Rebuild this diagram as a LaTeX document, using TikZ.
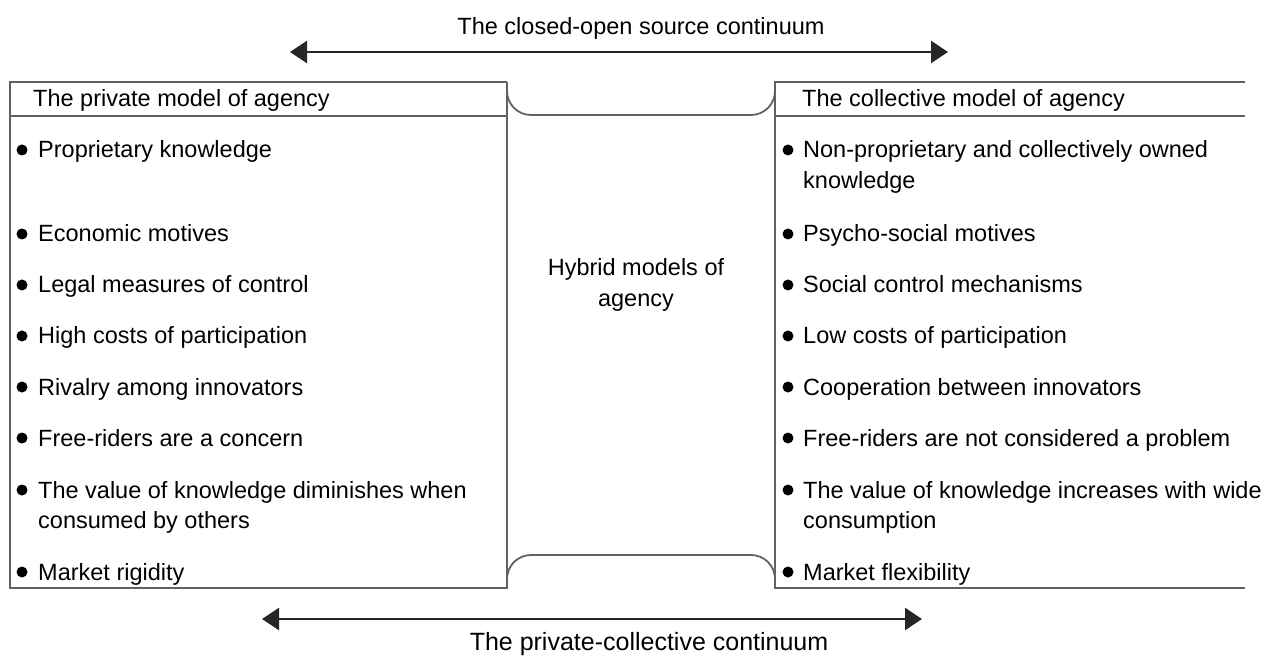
\documentclass[tikz,border=0pt]{standalone}
\usepackage{fontspec}
\setmainfont{Liberation Sans}
\usepackage{tikz}
\usetikzlibrary{arrows.meta}

\tikzset{
    boxline/.style = {draw = black!62, line width = 1.8pt},
    continuum/.style = {draw = black!85, line width = 2.6pt,
        {Triangle[length = 17pt, width = 22pt]}-{Triangle[length = 17pt, width = 22pt]}},
    item/.style = {anchor = base west, inner sep = 0, align = left},
    caption/.style = {anchor = base, inner sep = 0}
}

\begin{document}
\begin{tikzpicture}[x = 1pt, y = -1pt, font = \fontsize{23.5}{30.5}\selectfont]
    \useasboundingbox (0, 0) rectangle (1264, 660);

    % corners of the two boxes
    \coordinate (pTL) at (10, 82);    \coordinate (pTR) at (507, 82);
    \coordinate (pHL) at (10, 116);   \coordinate (pHR) at (507, 116);
    \coordinate (pBL) at (10, 588);   \coordinate (pBR) at (507, 588);
    \coordinate (cTL) at (775, 82);   \coordinate (cTR) at (1245, 82);
    \coordinate (cHL) at (775, 116);  \coordinate (cHR) at (1245, 116);
    \coordinate (cBL) at (775, 588);  \coordinate (cBR) at (1245, 588);

    \draw[boxline] (pTR) -- (pTL) -- (pBL) -- (pBR) -- (pTR);
    \draw[boxline] (pHL) -- (pHR);
    \draw[boxline] (cTR) -- (cTL) -- (cBL) -- (cBR);
    \draw[boxline] (cHL) -- (cHR);

    % hybrid band between the boxes
    \draw[boxline, rounded corners = 24pt] (pTR) -- (507, 115) -- (775, 115) -- (cTL);
    \draw[boxline, rounded corners = 24pt] (pBR) -- (507, 555) -- (775, 555) -- (cBL);

    \node[item] (pHead) at (33, 107) {The private model of agency};
    \node[item] (cHead) at (802, 107) {The collective model of agency};

    % \k = extra lines of an item (the node's base is its last line)
    \foreach \n/\yb/\k/\txt in {
        1/158/0/{Proprietary knowledge},
        2/242/0/{Economic motives},
        3/293/0/{Legal measures of control},
        4/344/0/{High costs of participation},
        5/395/0/{Rivalry among innovators},
        6/446/0/{Free-riders are a concern},
        7/498/1/{The value of knowledge diminishes when\\consumed by others},
        8/580/0/{Market rigidity}} {
        \node[item] (p\n) at (38, \yb + 30.5 * \k) {\txt};
        \fill (22, \yb - 8) circle (5.5);
    }

    \foreach \n/\yb/\k/\txt in {
        1/158/1/{Non-proprietary and collectively owned\\knowledge},
        2/242/0/{Psycho-social motives},
        3/293/0/{Social control mechanisms},
        4/344/0/{Low costs of participation},
        5/395/0/{Cooperation between innovators},
        6/446/0/{Free-riders are not considered a problem},
        7/498/1/{The value of knowledge increases with wide\\consumption},
        8/580/0/{Market flexibility}} {
        \node[item] (c\n) at (803, \yb + 30.5 * \k) {\txt};
        \fill (788, \yb - 8) circle (5.5);
    }

    \node[align = center, inner sep = 0] (hybrid) at (636, 285) {Hybrid models of\\agency};

    % the two continua
    \coordinate (openL) at (290, 52);   \coordinate (openR) at (948, 52);
    \coordinate (collL) at (262, 619);  \coordinate (collR) at (922, 619);
    \draw[continuum] (openL) -- (openR);
    \draw[continuum] (collL) -- (collR);
    \node[caption] (openLabel) at (641, 35) {The closed-open source continuum};
    \node[caption, font = \fontsize{25}{30}\selectfont] (collLabel) at (649, 650)
        {The private-collective continuum};
\end{tikzpicture}
\end{document}
